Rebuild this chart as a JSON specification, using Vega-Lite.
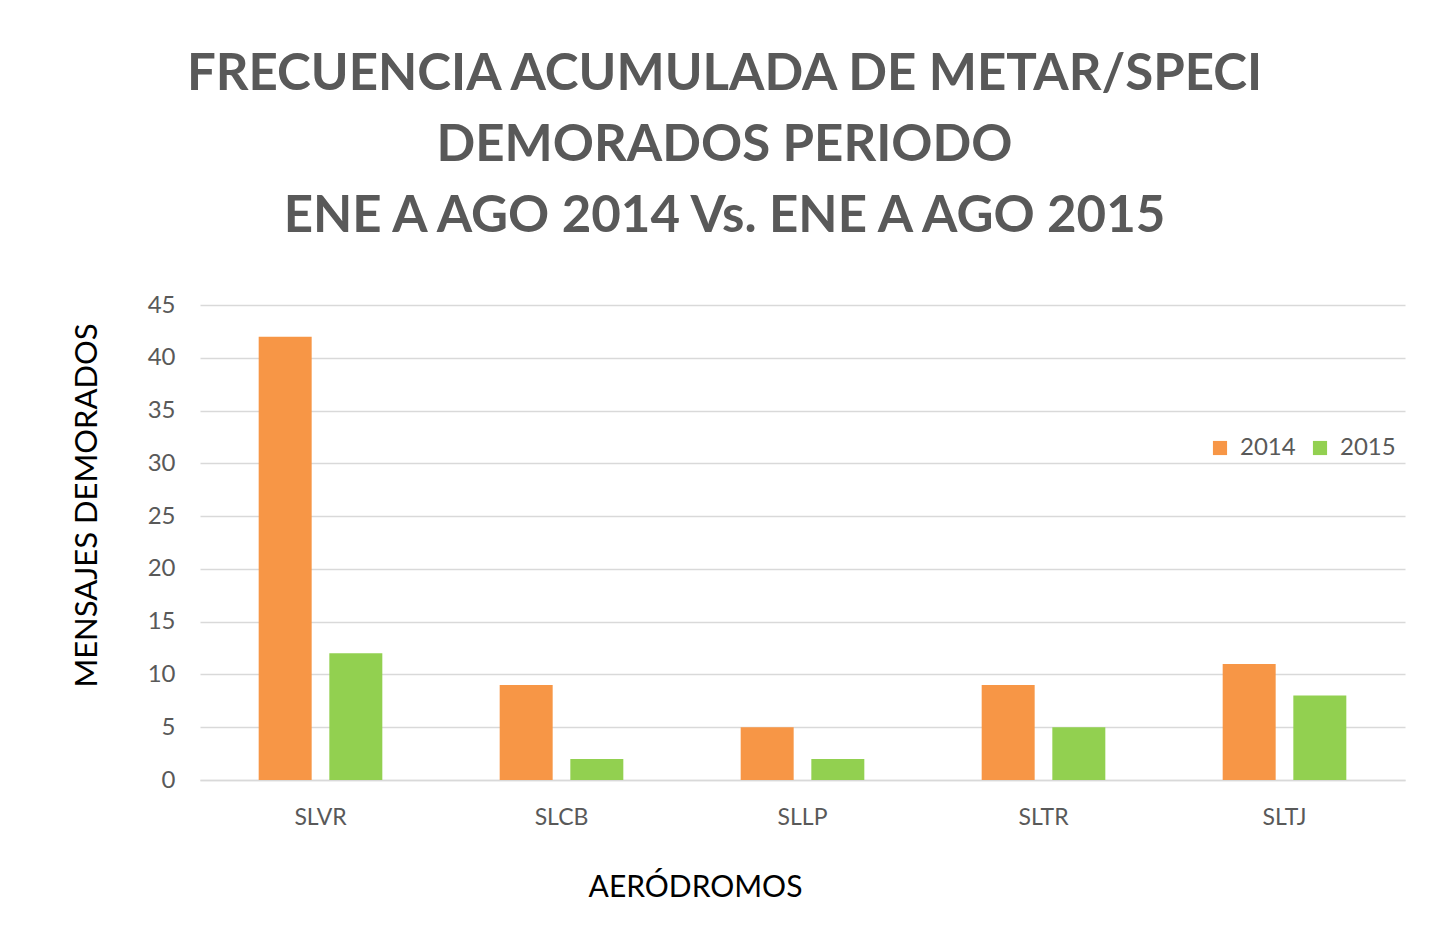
{
  "$schema": "https://vega.github.io/schema/vega-lite/v6.json",
  "width": 1205,
  "height": 475,
  "autosize": {"type": "none"},
  "padding": {"left": 200, "top": 305, "right": 28, "bottom": 152},
  "background": "white",
  "title": {
    "text": ["FRECUENCIA ACUMULADA DE METAR/SPECI", "DEMORADOS PERIODO", "ENE A AGO 2014 Vs. ENE A AGO 2015"],
    "font": "Lato",
    "fontSize": 51,
    "fontWeight": "bold",
    "color": "#595959",
    "lineHeight": 71,
    "anchor": "middle",
    "dx": -78,
    "offset": 50
  },
  "data": {
    "values": [
      {"aerodromo": "SLVR", "anio": "2014", "valor": 42},
      {"aerodromo": "SLVR", "anio": "2015", "valor": 12},
      {"aerodromo": "SLCB", "anio": "2014", "valor": 9},
      {"aerodromo": "SLCB", "anio": "2015", "valor": 2},
      {"aerodromo": "SLLP", "anio": "2014", "valor": 5},
      {"aerodromo": "SLLP", "anio": "2015", "valor": 2},
      {"aerodromo": "SLTR", "anio": "2014", "valor": 9},
      {"aerodromo": "SLTR", "anio": "2015", "valor": 5},
      {"aerodromo": "SLTJ", "anio": "2014", "valor": 11},
      {"aerodromo": "SLTJ", "anio": "2015", "valor": 8}
    ]
  },
  "mark": {"type": "bar"},
  "encoding": {
    "x": {
      "field": "aerodromo",
      "type": "nominal",
      "sort": ["SLVR", "SLCB", "SLLP", "SLTR", "SLTJ"],
      "scale": {"paddingInner": 0.487, "paddingOuter": 0.2435},
      "axis": {
        "title": "AERÓDROMOS",
        "titleFont": "Lato",
        "titleFontSize": 30,
        "titleFontWeight": "normal",
        "titleColor": "#000000",
        "titleX": 495,
        "titleY": 107,
        "titleBaseline": "middle",
        "labelFont": "Lato",
        "labelFontSize": 23,
        "labelColor": "#595959",
        "labelAngle": 0,
        "labelPadding": 26,
        "labelBaseline": "top",
        "ticks": false,
        "domainColor": "#D9D9D9",
        "domainWidth": 1.5,
        "grid": false
      }
    },
    "xOffset": {
      "field": "anio",
      "type": "nominal",
      "scale": {"paddingInner": 0.25, "paddingOuter": 0}
    },
    "y": {
      "field": "valor",
      "type": "quantitative",
      "scale": {"domain": [0, 45]},
      "axis": {
        "values": [0, 5, 10, 15, 20, 25, 30, 35, 40, 45],
        "title": "MENSAJES DEMORADOS",
        "titleFont": "Lato",
        "titleFontSize": 31,
        "titleFontWeight": "normal",
        "titleColor": "#000000",
        "titleX": -113,
        "titleY": 200,
        "titleBaseline": "middle",
        "labelFont": "Lato",
        "labelFontSize": 24,
        "labelColor": "#595959",
        "labelPadding": 25,
        "ticks": false,
        "domain": false,
        "gridColor": "#D9D9D9",
        "gridWidth": 1.5
      }
    },
    "color": {
      "field": "anio",
      "type": "nominal",
      "scale": {"domain": ["2014", "2015"], "range": ["#F79646", "#92D050"]},
      "legend": {
        "title": null,
        "orient": "none",
        "legendX": 1008,
        "legendY": 131,
        "direction": "horizontal",
        "symbolType": "square",
        "symbolSize": 200,
        "symbolStrokeWidth": 0,
        "labelFont": "Lato",
        "labelFontSize": 24,
        "labelColor": "#595959",
        "labelOffset": 8,
        "columnPadding": 12
      }
    }
  },
  "config": {"view": {"stroke": null}}
}
